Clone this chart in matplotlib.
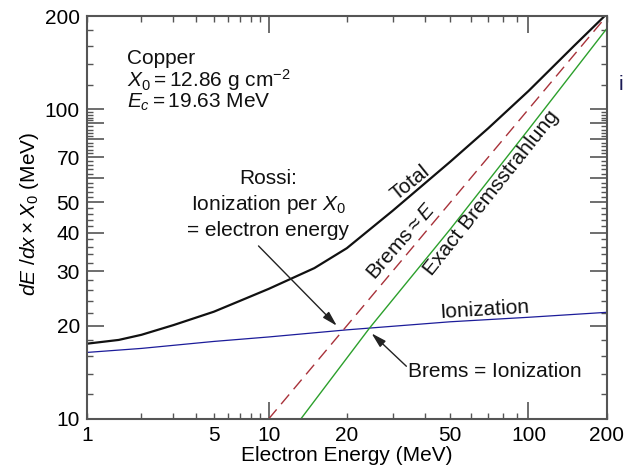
import matplotlib
matplotlib.use("Agg")
import matplotlib.pyplot as plt
import numpy as np
from matplotlib.ticker import FixedLocator, FuncFormatter

plt.rcParams['font.family'] = ['Liberation Sans', 'DejaVu Sans']
plt.rcParams['mathtext.fontset'] = 'custom'
plt.rcParams['mathtext.rm'] = 'Liberation Sans'
plt.rcParams['mathtext.it'] = 'Liberation Sans:italic'

# values (MeV)
total_energy = [1, 1.5, 2, 3, 5, 7, 10, 15, 20, 30, 50, 70, 100, 150, 200]
total_loss = [17.5, 18.0, 18.7, 20.1, 22.2, 24.1, 26.3, 30.7, 35.6, 47.0, 67.7, 86.8, 114.5, 160.4, 203]

ion_energy = [1, 2, 5, 10, 20, 50, 100, 200]
ion_loss = [16.4, 16.9, 17.8, 18.4, 19.4, 20.6, 21.3, 22.1]

brems_energy = [13.3, 24.5, 50, 100, 200]
brems_loss = [10, 19.7, 41, 86, 182]

rossi_energy = [10, 200]
rossi_loss = [10, 200]

x_labels = [1, 5, 10, 20, 50, 100, 200]
y_labels = [10, 20, 30, 40, 50, 70, 100, 200]

LOW_DECADE = 0.70  # the 1-10 decade is drawn narrower than 10-200


def fwd(e):
    lg = np.log10(np.clip(np.asarray(e, dtype=float), 1e-6, None)) - 1
    return np.where(lg < 0, LOW_DECADE * lg, lg)


def inv(v):
    v = np.asarray(v, dtype=float)
    return 10 ** (np.where(v < 0, v / LOW_DECADE, v) + 1)


W, H = 625, 476


def px(x, y):
    return x / W, 1 - y / H


fig = plt.figure(figsize=(W / 100, H / 100), dpi=100)
ax = fig.add_axes([86.7 / W, 1 - 419 / H, 520 / W, 403 / H])
ax.set_xscale('function', functions=(fwd, inv))
ax.set_yscale('log')
ax.set_xlim(1, 200)
ax.set_ylim(10, 200)

ax.plot(total_energy, total_loss, color='#111111', lw=1.6)
ax.plot(ion_energy, ion_loss, color='#1c1c9a', lw=0.9)
ax.plot(brems_energy, brems_loss, color='#2ca02c', lw=1.0)
ax.plot(rossi_energy, rossi_loss, color='#a8323a', lw=1.0, dashes=(9, 5))

# ticks
x_major = [10, 100]
x_minor = [1, 2, 3, 4, 5, 6, 7, 8, 9, 20, 30, 40, 50, 60, 70, 80, 90, 200]
y_major = list(range(10, 101, 10)) + [200]
y_minor = ([v for v in range(12, 100, 2) if v % 10] + [120, 140, 160, 180])

fmt_x = FuncFormatter(lambda v, p: f"{v:g}" if round(v) in x_labels else "")
fmt_y = FuncFormatter(lambda v, p: f"{v:g}" if round(v) in y_labels else "")
ax.xaxis.set_major_locator(FixedLocator(x_major))
ax.xaxis.set_minor_locator(FixedLocator(x_minor))
ax.xaxis.set_major_formatter(fmt_x)
ax.xaxis.set_minor_formatter(fmt_x)
ax.yaxis.set_major_locator(FixedLocator(y_major))
ax.yaxis.set_minor_locator(FixedLocator(y_minor))
ax.yaxis.set_major_formatter(fmt_y)
ax.yaxis.set_minor_formatter(fmt_y)

ax.tick_params(which='both', direction='in', top=True, right=True,
               color='#555555', labelsize=15, pad=5)
ax.tick_params(which='major', length=12, width=1.2)
ax.tick_params(which='minor', length=4.2, width=1.0)
for s in ax.spines.values():
    s.set_color('#555555')
    s.set_linewidth(1.5)

ax.set_xlabel('Electron Energy (MeV)', fontsize=15, labelpad=1)
ax.set_ylabel(r'$dE\ /dx \times X_0$ (MeV)', fontsize=15)
ax.yaxis.set_label_coords(-0.088, 0.51)

# text blocks
txt = dict(fontsize=15, color='#111111')
fig.text(*px(127, 58), 'Copper', va='center', ha='left', **txt)
fig.text(*px(127, 80), r'$X_0 = 12.86$ g cm$^{-2}$', va='center', ha='left', **txt)
fig.text(*px(127, 102), r'$E_c = 19.63$ MeV', va='center', ha='left', **txt)

fig.text(*px(268, 179), 'Rossi:', ha='center', va='center', **txt)
fig.text(*px(268, 204), r'Ionization per $X_0$', ha='center', va='center', **txt)
fig.text(*px(268, 230), '= electron energy', ha='center', va='center', **txt)

fig.text(*px(410, 183), 'Total', rotation=39, ha='center', va='center',
         rotation_mode='anchor', **txt)
fig.text(*px(401, 241), r'Brems$\approx E$', rotation=49, ha='center', va='center',
         rotation_mode='anchor', **txt)
fig.text(*px(491, 193), 'Exact Bremsstrahlung', rotation=51.5, ha='center',
         va='center', rotation_mode='anchor', **txt)
fig.text(*px(485, 310), 'Ionization', rotation=3.5, ha='center', va='center',
         rotation_mode='anchor', **txt)
fig.text(*px(619, 84), 'i', ha='left', va='center', fontsize=15, color='#1a1a55')

arrow = dict(arrowstyle='-|>,head_length=0.9,head_width=0.25', color='#222222',
             lw=1.0, shrinkA=0, shrinkB=0)
ax.annotate('', xy=(18.3, 20.0), xytext=(8.8, 36.2), arrowprops=arrow)
ax.annotate('', xy=(24.9, 18.9), xytext=(33.9, 14.8), arrowprops=arrow)
ax.text(34.5, 14.2, 'Brems = Ionization', ha='left', va='center', **txt)

fig.savefig('out.png', dpi=100)
